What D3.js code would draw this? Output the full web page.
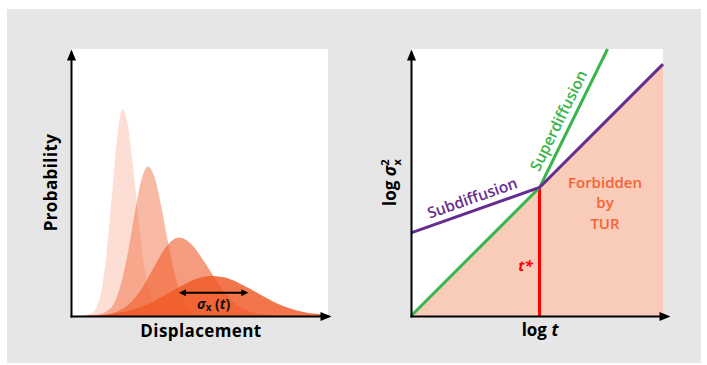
<!DOCTYPE html>
<html>
<head>
<meta charset="utf-8">
<script src="https://cdn.jsdelivr.net/npm/d3@7"></script>
<style>
body { margin: 0; background: #fff; }
svg { display: block; font-family: "Open Sans", sans-serif; }
</style>
</head>
<body>
<div id="chart"></div>
<script>
// left panel: distributions at increasing times, [displacement, probability]
var curve1 = [[0.3, 0], [0.8, 0.01], [1.0, 0.035], [1.2, 0.1], [1.4, 0.25], [1.6, 0.46], [1.8, 0.67], [2.0, 0.775],
    [2.2, 0.72], [2.4, 0.57], [2.6, 0.39], [2.8, 0.22], [3.0, 0.11], [3.3, 0.03], [3.6, 0.006], [4.0, 0]];
var curve2 = [[0.5, 0], [1.0, 0.004], [1.5, 0.025], [1.75, 0.064], [2.0, 0.14], [2.25, 0.256], [2.5, 0.396], [2.75, 0.513],
    [3.0, 0.56], [3.25, 0.52], [3.5, 0.417], [3.75, 0.288], [4.0, 0.172], [4.25, 0.088], [4.5, 0.039], [5.0, 0.005], [5.5, 0]];
var curve3 = [[0.5, 0], [1.2, 0.003], [1.7, 0.013], [2.2, 0.04], [2.7, 0.095], [3.2, 0.178], [3.7, 0.259], [4.2, 0.294],
    [4.7, 0.267], [5.2, 0.201], [5.7, 0.126], [6.2, 0.065], [6.7, 0.028], [7.2, 0.01], [7.7, 0.003], [8.3, 0]];
var curve4 = [[0.5, 0], [0.7, 0.002], [1.5, 0.007], [2.0, 0.014], [2.5, 0.026], [3.0, 0.044], [3.5, 0.069], [4.0, 0.097],
    [4.5, 0.123], [5.0, 0.143], [5.5, 0.15], [6.0, 0.144], [6.5, 0.125], [7.0, 0.1], [7.5, 0.073], [8.0, 0.048],
    [8.5, 0.029], [9.0, 0.016], [9.5, 0.008], [10.0, 0.003], [10.1, 0]];
var curves = [curve1, curve2, curve3, curve4];
var curveOpacity = [0.2, 0.42, 0.6, 0.84];
var sigmaSpan = [4.2, 6.9];
var sigmaLevel = 0.087;

// right panel: log variance against log time
var tStar = 5.1;
var turBound = [[0, 0], [10, 10]];
var subdiffusion = [[0, 3.3], [5.1, 5.1], [10, 10]];
var superdiffusion = [[0, 0], [5.1, 5.1], [7.8, 10.6]];
var forbiddenLabel = ["Forbidden", "by", "TUR"];

var wt = 707;
var ht = 365;

var svg = d3.select("#chart").append("svg")
    .attr("width", wt)
    .attr("height", ht);

var defs = svg.append("defs");
defs.append("marker")
    .attr("id", "axisHead")
    .attr("viewBox", "-9 -5 13 10")
    .attr("markerUnits", "userSpaceOnUse")
    .attr("markerWidth", 13)
    .attr("markerHeight", 10)
    .attr("refX", 0)
    .attr("refY", 0)
    .attr("orient", "auto")
    .append("path")
    .attr("d", "M-8,-4.5L3,0L-8,4.5Z")
    .attr("fill", "#000");
defs.append("marker")
    .attr("id", "sigmaHead")
    .attr("viewBox", "-6 -4 9 8")
    .attr("markerUnits", "userSpaceOnUse")
    .attr("markerWidth", 9)
    .attr("markerHeight", 8)
    .attr("refX", 0)
    .attr("refY", 0)
    .attr("orient", "auto-start-reverse")
    .append("path")
    .attr("d", "M-5,-3.6L2,0L-5,3.6Z")
    .attr("fill", "#000");

svg.append("rect")
    .attr("x", 7)
    .attr("y", 9)
    .attr("width", 694)
    .attr("height", 354)
    .attr("fill", "#e6e6e6");

var xL = d3.scaleLinear().domain([0, 10]).range([71, 328]);
var yL = d3.scaleLinear().domain([0, 1]).range([316, 49]);
var xR = d3.scaleLinear().domain([0, 10]).range([411, 663]);
var yR = d3.scaleLinear().domain([0, 10.6]).range([316, 49]);

// white plot areas
svg.append("rect")
    .attr("x", xL(0)).attr("y", yL(1))
    .attr("width", xL(10) - xL(0)).attr("height", yL(0) - yL(1))
    .attr("fill", "#fff");
svg.append("rect")
    .attr("x", xR(0)).attr("y", yR(10.6))
    .attr("width", xR(10) - xR(0)).attr("height", yR(0) - yR(10.6))
    .attr("fill", "#fff");

// ---- left panel
var area = d3.area()
    .x(function (d) { return xL(d[0]); })
    .y0(yL(0))
    .y1(function (d) { return yL(d[1]); })
    .curve(d3.curveMonotoneX);

svg.append("g").selectAll("path")
    .data(curves)
    .enter().append("path")
    .attr("d", area)
    .attr("fill", "#f05a28")
    .attr("fill-opacity", function (d, i) { return curveOpacity[i]; });

svg.append("line")
    .attr("x1", xL(sigmaSpan[0]) + 2)
    .attr("x2", xL(sigmaSpan[1]) - 2)
    .attr("y1", yL(sigmaLevel))
    .attr("y2", yL(sigmaLevel))
    .attr("stroke", "#000")
    .attr("stroke-width", 2)
    .attr("marker-start", "url(#sigmaHead)")
    .attr("marker-end", "url(#sigmaHead)");

var sig = svg.append("text")
    .attr("x", (xL(sigmaSpan[0]) + xL(sigmaSpan[1])) / 2)
    .attr("y", 309)
    .attr("text-anchor", "middle")
    .style("font-size", "14px")
    .style("font-weight", 700)
    .attr("fill", "#111");
sig.append("tspan").style("font-style", "italic").text("σ");
sig.append("tspan").attr("dy", 2).style("font-size", "10px").text("x");
sig.append("tspan").attr("dy", -2).text(" (");
sig.append("tspan").style("font-style", "italic").text("t");
sig.append("tspan").text(")");

var axL = svg.append("g").attr("class", "axis");
axL.append("g")
    .attr("transform", "translate(0," + yL(0) + ")")
    .call(d3.axisBottom(xL.copy().range([70, 328])).tickValues([]).tickSizeOuter(0));
axL.append("g")
    .attr("transform", "translate(" + xL(0) + ",0)")
    .call(d3.axisLeft(yL.copy().range([317, 52])).tickValues([]).tickSizeOuter(0));

svg.append("text")
    .attr("transform", "translate(57," + yL(0.5) + ") rotate(-90)")
    .attr("text-anchor", "middle")
    .style("font-size", "17px")
    .style("font-weight", 700)
    .style("letter-spacing", "0.4px")
    .text("Probability");
svg.append("text")
    .attr("x", 201)
    .attr("y", 337)
    .attr("text-anchor", "middle")
    .style("font-size", "17px")
    .style("font-weight", 700)
    .style("letter-spacing", "0.4px")
    .text("Displacement");

// ---- right panel
var forbidden = d3.area()
    .x(function (d) { return xR(d[0]); })
    .y0(yR(0))
    .y1(function (d) { return yR(d[1]); });

svg.append("path")
    .datum(turBound)
    .attr("d", forbidden)
    .attr("fill", "#f9cbb9");

var lineR = d3.line()
    .x(function (d) { return xR(d[0]); })
    .y(function (d) { return yR(d[1]); });

svg.append("line")
    .attr("x1", xR(tStar)).attr("x2", xR(tStar))
    .attr("y1", yR(0)).attr("y2", yR(tStar))
    .attr("stroke", "#ff0000")
    .attr("stroke-width", 3);

svg.append("path")
    .datum(superdiffusion)
    .attr("class", "line")
    .attr("d", lineR)
    .attr("fill", "none")
    .attr("stroke", "#39b54a")
    .attr("stroke-width", 3);

svg.append("path")
    .datum(subdiffusion)
    .attr("class", "line")
    .attr("d", lineR)
    .attr("fill", "none")
    .attr("stroke", "#662d91")
    .attr("stroke-width", 3);

var axR = svg.append("g").attr("class", "axis");
axR.append("g")
    .attr("transform", "translate(0," + yR(0) + ")")
    .call(d3.axisBottom(xR.copy().range([410, 667])).tickValues([]).tickSizeOuter(0));
axR.append("g")
    .attr("transform", "translate(" + xR(0) + ",0)")
    .call(d3.axisLeft(yR.copy().range([317, 52])).tickValues([]).tickSizeOuter(0));

svg.selectAll(".axis .domain")
    .attr("stroke", "#000")
    .attr("stroke-width", 2)
    .attr("marker-end", "url(#axisHead)");

// labels placed along their segments
function segLabel(seg, at, txt, color, dy) {
    var a = seg[0], b = seg[1];
    var k = (at - a[0]) / (b[0] - a[0]);
    var px = xR(at), py = yR(a[1] + k * (b[1] - a[1]));
    var ang = Math.atan2(yR(b[1]) - yR(a[1]), xR(b[0]) - xR(a[0])) * 180 / Math.PI;
    svg.append("text")
        .attr("transform", "translate(" + px + "," + py + ") rotate(" + ang + ")")
        .attr("dy", dy)
        .attr("text-anchor", "middle")
        .attr("fill", color)
        .style("font-size", "15.5px")
        .style("font-weight", 600)
        .text(txt);
}
segLabel(subdiffusion.slice(0, 2), 2.6, "Subdiffusion", "#662d91", -7);
segLabel(superdiffusion.slice(1, 3), 6.3, "Superdiffusion", "#39b54a", -7);

svg.append("text")
    .attr("x", xR(tStar) - 14)
    .attr("y", 271)
    .attr("text-anchor", "middle")
    .attr("fill", "#ff0000")
    .style("font-size", "15px")
    .style("font-weight", 700)
    .style("font-style", "italic")
    .text("t*");

svg.append("g").selectAll("text")
    .data(forbiddenLabel)
    .enter().append("text")
    .attr("x", 605)
    .attr("y", function (d, i) { return 187.5 + i * 20.5; })
    .attr("text-anchor", "middle")
    .attr("fill", "#f26535")
    .style("font-size", "15px")
    .style("font-weight", 600)
    .text(function (d) { return d; });

var lt = svg.append("text")
    .attr("x", 540)
    .attr("y", 336)
    .attr("text-anchor", "middle")
    .style("font-size", "17px")
    .style("font-weight", 700)
    .text("log ");
lt.append("tspan").style("font-style", "italic").text("t");

var ls = svg.append("text")
    .attr("transform", "translate(396," + yR(5.3) + ") rotate(-90)")
    .attr("text-anchor", "middle")
    .style("font-size", "17px")
    .style("font-weight", 700);
ls.append("tspan").text("log ");
ls.append("tspan").style("font-style", "italic").text("σ");
ls.append("tspan").attr("dy", -7).style("font-size", "11px").text("2");
ls.append("tspan").attr("dx", -6).attr("dy", 12).style("font-size", "11px").text("x");
</script>
</body>
</html>
